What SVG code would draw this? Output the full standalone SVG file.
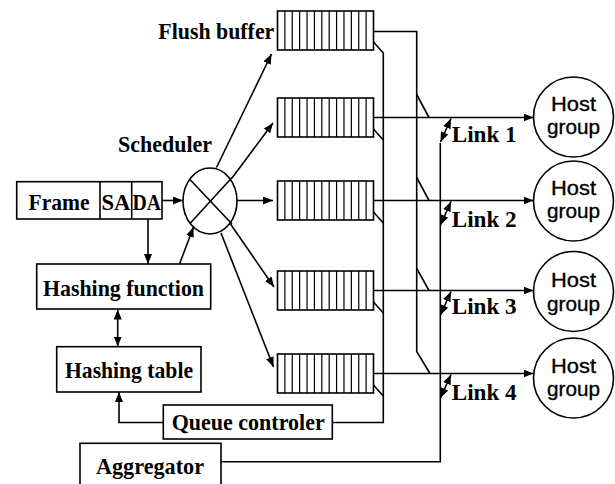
<svg xmlns="http://www.w3.org/2000/svg" width="615" height="484" viewBox="0 0 615 484">
  <style>
    .box { fill: #fff; stroke: #000; stroke-width: 1.6; }
    .wire { fill: none; stroke: #000; stroke-width: 1.6; }
    .lbl { font-family: "Liberation Serif", "Times New Roman", serif; font-weight: bold; font-size: 24px; fill: #000; }
    .host { font-family: "Liberation Sans", Arial, sans-serif; font-size: 20.5px; fill: #000; stroke: #000; stroke-width: 0.35; text-anchor: middle; }
    .arr { marker-end: url(#ah); }
    .arr2 { marker-start: url(#ah); marker-end: url(#ah); }
  </style>
  <defs>
    <marker id="ah" viewBox="0 0 10 8" refX="10" refY="4" markerWidth="10" markerHeight="8" markerUnits="userSpaceOnUse" orient="auto-start-reverse">
      <path d="M0,0 L10,4 L0,8 z" fill="#000"/>
    </marker>
    <!-- one queue: 13 slots -->
    <g id="slots">
      <rect x="0" y="0" width="96" height="39" fill="#fff" stroke="#000" stroke-width="1.6"/>
      <path d="M7.38,0V39M14.77,0V39M22.15,0V39M29.54,0V39M36.92,0V39M44.31,0V39M51.69,0V39M59.08,0V39M66.46,0V39M73.85,0V39M81.23,0V39M88.62,0V39" stroke="#000" stroke-width="1.2" fill="none"/>
    </g>
  </defs>

  <rect width="615" height="484" fill="#fff"/>

  <!-- connectors -->
  <g id="connectors">
    <line class="wire arr" x1="162" y1="200.5" x2="183" y2="200.5"/>
    <line class="wire arr" x1="148" y1="219" x2="148" y2="264"/>
    <line class="wire arr" x1="179.5" y1="264" x2="193.5" y2="227"/>
    <line class="wire arr2" x1="117.7" y1="309.5" x2="117.7" y2="346.5"/>
    <polyline class="wire arr" points="163.3,422.5 119,422.5 119,392"/>

    <line class="wire arr" x1="216.5" y1="167.5" x2="271.5" y2="54"/>
    <line class="wire arr" x1="232" y1="178" x2="273" y2="123"/>
    <line class="wire arr" x1="237" y1="200.5" x2="273" y2="200.5"/>
    <line class="wire arr" x1="230.5" y1="224" x2="274" y2="287"/>
    <line class="wire arr" x1="221" y1="233" x2="273.5" y2="367"/>

    <!-- flush buffer output -->
    <polyline class="wire" points="373.5,31.5 416.7,31.5 416.7,351.5 430,373.5"/>
    <line class="wire" x1="416.7" y1="94.5" x2="429" y2="117.5"/>
    <line class="wire" x1="416.7" y1="177.5" x2="429" y2="200.5"/>
    <line class="wire" x1="416.7" y1="268.5" x2="429" y2="290.5"/>

    <!-- queue state to controller -->
    <polyline class="wire" points="373.5,42 383.3,53 383.3,422.5 332.3,422.5"/>
    <line class="wire" x1="373.5" y1="129" x2="383.3" y2="140"/>
    <line class="wire" x1="373.5" y1="212" x2="383.3" y2="223"/>
    <line class="wire" x1="373.5" y1="302" x2="383.3" y2="313"/>
    <line class="wire" x1="373.5" y1="385" x2="383.3" y2="396"/>

    <!-- links -->
    <line class="wire arr" x1="373.5" y1="117.5" x2="533.5" y2="117.5"/>
    <line class="wire arr" x1="373.5" y1="200.5" x2="533.5" y2="200.5"/>
    <line class="wire arr" x1="373.5" y1="290.5" x2="533.5" y2="290.5"/>
    <line class="wire arr" x1="373.5" y1="373.5" x2="533.5" y2="373.5"/>

    <!-- aggregator -->
    <polyline class="wire" points="221,461.7 440.3,461.7 440.3,143"/>
    <line class="wire arr2" x1="440.5" y1="142" x2="451" y2="118.5"/>
    <line class="wire arr2" x1="440.5" y1="225" x2="451" y2="201.5"/>
    <line class="wire arr2" x1="440.5" y1="315" x2="451" y2="291.5"/>
    <line class="wire arr2" x1="440.5" y1="398" x2="451" y2="374.5"/>
  </g>

  <g id="frame">
    <rect class="box" x="16.7" y="181.7" width="145.3" height="37.3"/>
    <line class="wire" x1="100" y1="181.7" x2="100" y2="219"/>
    <line class="wire" x1="131.7" y1="181.7" x2="131.7" y2="219"/>
    <text class="lbl" x="28.5" y="209.5" textLength="61" lengthAdjust="spacingAndGlyphs">Frame</text>
    <text class="lbl" x="101.5" y="209.5" textLength="29" lengthAdjust="spacingAndGlyphs">SA</text>
    <text class="lbl" x="132.5" y="209.5" textLength="28.5" lengthAdjust="spacingAndGlyphs">DA</text>
  </g>

  <g id="hashing-function">
    <rect class="box" x="36.7" y="264" width="174" height="45"/>
    <text class="lbl" x="43" y="295.5" textLength="161" lengthAdjust="spacingAndGlyphs">Hashing function</text>
  </g>

  <g id="hashing-table">
    <rect class="box" x="56.7" y="346.7" width="144.3" height="45.3"/>
    <text class="lbl" x="65" y="378" textLength="128" lengthAdjust="spacingAndGlyphs">Hashing table</text>
  </g>

  <g id="queue-controler">
    <rect class="box" x="163.3" y="405" width="169" height="34"/>
    <text class="lbl" x="171.7" y="429.5" textLength="153" lengthAdjust="spacingAndGlyphs">Queue controler</text>
  </g>

  <g id="aggregator">
    <rect class="box" x="80" y="443.3" width="141" height="50"/>
    <text class="lbl" x="96" y="474" textLength="108" lengthAdjust="spacingAndGlyphs">Aggregator</text>
  </g>

  <g id="scheduler">
    <ellipse class="box" cx="210" cy="201" rx="27" ry="33"/>
    <line class="wire" x1="189" y1="178.5" x2="232" y2="224"/>
    <line class="wire" x1="190" y1="223.5" x2="232" y2="177.5"/>
    <text class="lbl" x="118" y="152" textLength="94" lengthAdjust="spacingAndGlyphs">Scheduler</text>
  </g>

  <g id="flush-buffer">
    <use href="#slots" x="277.5" y="11"/>
    <text class="lbl" x="158.3" y="38.5" textLength="116" lengthAdjust="spacingAndGlyphs">Flush buffer</text>
  </g>
  <g id="queue-1"><use href="#slots" x="277.5" y="98"/></g>
  <g id="queue-2"><use href="#slots" x="277.5" y="181"/></g>
  <g id="queue-3"><use href="#slots" x="277.5" y="271"/></g>
  <g id="queue-4"><use href="#slots" x="277.5" y="354"/></g>

  <g id="link-labels">
    <text class="lbl" x="451.7" y="141.7" textLength="65" lengthAdjust="spacingAndGlyphs">Link 1</text>
    <text class="lbl" x="451.7" y="226.7" textLength="65" lengthAdjust="spacingAndGlyphs">Link 2</text>
    <text class="lbl" x="451.7" y="314" textLength="65" lengthAdjust="spacingAndGlyphs">Link 3</text>
    <text class="lbl" x="451.7" y="400" textLength="65" lengthAdjust="spacingAndGlyphs">Link 4</text>
  </g>

  <g id="host-group-1">
    <circle class="box" cx="573.5" cy="117" r="40"/>
    <text class="host" x="573.5" y="110.5" textLength="45" lengthAdjust="spacingAndGlyphs">Host</text>
    <text class="host" x="573.5" y="134" textLength="53" lengthAdjust="spacingAndGlyphs">group</text>
  </g>
  <g id="host-group-2">
    <circle class="box" cx="573.5" cy="201" r="40"/>
    <text class="host" x="573.5" y="194.5" textLength="45" lengthAdjust="spacingAndGlyphs">Host</text>
    <text class="host" x="573.5" y="218" textLength="53" lengthAdjust="spacingAndGlyphs">group</text>
  </g>
  <g id="host-group-3">
    <circle class="box" cx="573.5" cy="291.5" r="40"/>
    <text class="host" x="573.5" y="287" textLength="45" lengthAdjust="spacingAndGlyphs">Host</text>
    <text class="host" x="573.5" y="310.5" textLength="53" lengthAdjust="spacingAndGlyphs">group</text>
  </g>
  <g id="host-group-4">
    <circle class="box" cx="573.5" cy="378" r="40"/>
    <text class="host" x="573.5" y="372.5" textLength="45" lengthAdjust="spacingAndGlyphs">Host</text>
    <text class="host" x="573.5" y="396" textLength="53" lengthAdjust="spacingAndGlyphs">group</text>
  </g>
</svg>
